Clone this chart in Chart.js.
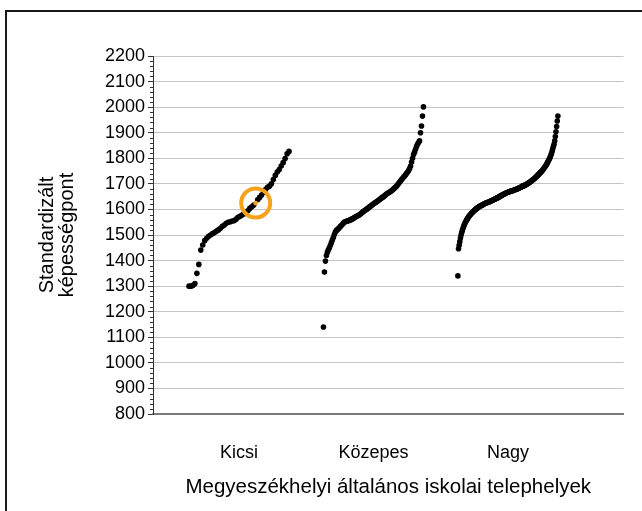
<!DOCTYPE html>
<html>
<head>
<meta charset="utf-8">
<script src="https://cdn.jsdelivr.net/npm/chart.js@4/dist/chart.umd.min.js"></script>
<style>
  html, body { margin: 0; padding: 0; background: #fff; }
  #chart { display: block; }
</style>
</head>
<body>
<canvas id="chart" width="642" height="511"></canvas>
<script>
// ===== data =====
const categories = ['Kicsi', 'Közepes', 'Nagy'];

// sorted school scores per group (standardised ability points)
const kicsi = [1300, 1300, 1303, 1310, 1350, 1385, 1441, 1461, 1478, 1487, 1495, 1500, 1506, 1510,
  1515, 1520, 1526, 1534, 1539, 1546, 1550, 1552, 1555, 1556, 1562, 1569, 1573, 1578, 1582, 1588,
  1595, 1604, 1610, 1617, 1625, 1638, 1647, 1656, 1667, 1678, 1687, 1691, 1700, 1717, 1733, 1746,
  1756, 1770, 1783, 1799, 1818, 1827];

const kozepes = [1140, 1355, 1398, 1420, 1433, 1442, 1450, 1460, 1470, 1480, 1490, 1502, 1512, 1517,
  1521, 1524, 1528, 1533, 1537, 1541, 1546, 1550, 1552, 1554, 1555, 1556, 1557, 1559, 1561, 1563,
  1565, 1567, 1570, 1572, 1574, 1576, 1578, 1581, 1584, 1588, 1591, 1594, 1597, 1599, 1602, 1605,
  1608, 1611, 1614, 1617, 1620, 1623, 1626, 1628, 1631, 1634, 1637, 1640, 1643, 1646, 1648, 1651,
  1654, 1658, 1661, 1663, 1666, 1668, 1671, 1674, 1677, 1681, 1685, 1688, 1692, 1697, 1702, 1707,
  1712, 1717, 1722, 1727, 1731, 1736, 1741, 1746, 1752, 1760, 1770, 1785, 1800, 1815, 1824, 1835,
  1846, 1855, 1862, 1868, 1900, 1926, 1965, 2001];

const nagy = [1340, 1446, 1460, 1474, 1488, 1500, 1510, 1518, 1526, 1533, 1540, 1546, 1551, 1556,
  1560, 1564, 1568, 1572, 1575, 1578, 1581, 1584, 1587, 1589, 1592, 1594, 1597, 1599, 1601, 1603,
  1605, 1607, 1609, 1610, 1612, 1613, 1615, 1616, 1617, 1618, 1620, 1622, 1623, 1624, 1625, 1626,
  1627, 1628, 1629, 1630, 1631, 1633, 1634, 1635, 1636, 1637, 1639, 1640, 1641, 1642, 1644, 1645,
  1646, 1647, 1649, 1650, 1652, 1653, 1654, 1656, 1657, 1659, 1660, 1661, 1662, 1664, 1665, 1666,
  1667, 1668, 1669, 1670, 1671, 1672, 1673, 1673, 1674, 1675, 1676, 1677, 1678, 1679, 1680, 1681,
  1682, 1684, 1685, 1686, 1687, 1688, 1690, 1691, 1692, 1693, 1694, 1695, 1697, 1698, 1699, 1701,
  1703, 1704, 1706, 1708, 1710, 1712, 1714, 1716, 1718, 1720, 1722, 1725, 1727, 1730, 1732, 1735,
  1737, 1740, 1742, 1745, 1747, 1750, 1753, 1757, 1760, 1764, 1768, 1771, 1775, 1779, 1784, 1789,
  1794, 1799, 1805, 1812, 1819, 1828, 1837, 1846, 1855, 1868, 1885, 1904, 1924, 1946, 1965];

// the school marked with the orange ring (group 0, rank index)
const highlightGroup = 0;
const highlightIndex = 34;

const yTicks = [800, 900, 1000, 1100, 1200, 1300, 1400, 1500, 1600, 1700, 1800, 1900, 2000, 2100, 2200];

// ===== layout / style =====
const FONT = "'Liberation Sans', Arial, sans-serif";
const ORANGE = '#F6A21D';
const groupCenters = [0.64, 1.64, 2.64];
const groupHalf = 0.372;

// spread each sorted group evenly around its category position
function toPoints(values, g) {
  const n = values.length;
  const start = groupCenters[g] - groupHalf;
  const step = (2 * groupHalf) / (n - 1);
  return values.map((v, i) => ({ x: start + i * step, y: v }));
}

const groups = [kicsi, kozepes, nagy];
const groupPoints = groups.map((vals, g) => toPoints(vals, g));
const hiPoint = groupPoints[highlightGroup][highlightIndex];

const framePlugin = {
  id: 'frame',
  beforeDraw(chart) {
    const ctx = chart.ctx;
    ctx.save();
    ctx.fillStyle = '#fff';
    ctx.fillRect(0, 0, chart.width, chart.height);
    ctx.fillStyle = '#1a1a1a';
    ctx.fillRect(5, 10, chart.width - 5, 2);
    ctx.fillRect(5, 10, 2, chart.height - 10);
    ctx.restore();
  },
  afterDraw(chart) {
    // minor tick marks on the value axis
    const y = chart.scales.y;
    const ctx = chart.ctx;
    const left = chart.chartArea.left;
    ctx.save();
    ctx.strokeStyle = '#333';
    ctx.lineWidth = 1;
    ctx.beginPath();
    for (let v = y.min + 20; v < y.max; v += 20) {
      if (v % 100 === 0) continue;
      const py = Math.round(y.getPixelForValue(v)) + 0.5;
      ctx.moveTo(left - 3, py);
      ctx.lineTo(left, py);
    }
    ctx.stroke();
    ctx.restore();
  }
};

const datasets = [
  {
    label: 'ring',
    data: [hiPoint],
    pointRadius: 14.5,
    pointBorderWidth: 4,
    pointBorderColor: ORANGE,
    pointBackgroundColor: 'rgba(0,0,0,0)',
    order: 0
  },
  {
    label: 'highlight',
    data: [hiPoint],
    pointRadius: 2.4,
    pointBorderWidth: 0,
    pointBackgroundColor: ORANGE,
    order: 1
  }
].concat(groupPoints.map((pts, g) => ({
  label: categories[g],
  data: pts.filter((p, i) => !(g === highlightGroup && i === highlightIndex)),
  pointRadius: 2.8,
  pointBorderWidth: 0,
  pointBackgroundColor: '#000',
  order: 2
})));

new Chart(document.getElementById('chart'), {
  type: 'scatter',
  data: { datasets },
  options: {
    responsive: false,
    animation: false,
    events: [],
    layout: { padding: { left: 0, top: 56, right: 10, bottom: 0 } },
    plugins: {
      legend: { display: false },
      tooltip: { enabled: false }
    },
    scales: {
      x: {
        type: 'linear',
        min: 0,
        max: 3.5,
        afterBuildTicks: scale => { scale.ticks = groupCenters.map(v => ({ value: v })); },
        afterFit: scale => { scale.height = 97; },
        grid: { display: false, drawTicks: false },
        border: { display: true, color: '#7a7a7a', width: 2 },
        ticks: {
          padding: 28,
          color: '#000',
          font: { family: FONT, size: 18 },
          callback: (v, i) => categories[i]
        },
        title: {
          display: true,
          text: 'Megyeszékhelyi általános iskolai telephelyek',
          color: '#000',
          font: { family: FONT, size: 20.5 },
          padding: { top: 0, bottom: 11 }
        }
      },
      y: {
        min: 800,
        max: 2200,
        afterBuildTicks: scale => { scale.ticks = yTicks.map(v => ({ value: v })); },
        afterFit: scale => { scale.width = 153; },
        grid: {
          color: ctx => (ctx.tick && ctx.tick.value === 800 ? 'rgba(0,0,0,0)' : '#c4c4c4'),
          lineWidth: 1,
          tickColor: '#333',
          tickLength: 5
        },
        border: { display: true, color: '#333', width: 1 },
        ticks: {
          padding: 3,
          color: '#000',
          font: { family: FONT, size: 18 },
          callback: v => String(v)
        },
        title: {
          display: true,
          text: ['Standardizált', 'képességpont'],
          color: '#000',
          font: { family: FONT, size: 20, lineHeight: '19.5px' },
          padding: { top: 38, bottom: 0 }
        }
      }
    }
  },
  plugins: [framePlugin]
});
</script>
</body>
</html>
